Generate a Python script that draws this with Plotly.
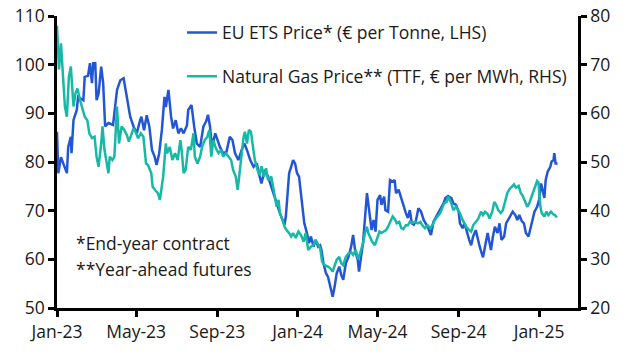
import pandas as pd
import plotly.graph_objects as go

START = "2023-01-01"

# EU ETS price (EUR per tonne, LHS): day offsets from 1 Jan 2023 and values
ets_days = [0, 2, 6, 10, 15, 17, 21, 22, 25, 30, 32, 40, 42, 47, 50, 53, 55, 58, 60, 63,
            67, 70, 73, 78, 85, 91, 96, 101, 104, 107, 111, 116, 121, 126, 128, 132, 136, 140, 144, 148,
            151, 155, 159, 163, 165, 169, 173, 176, 180, 184, 188, 192, 197, 199, 204, 208, 212, 217, 222, 226,
            229, 232, 235, 240, 244, 247, 252, 257, 262, 266, 270, 275, 280, 284, 288, 293, 298, 303, 306, 310,
            315, 320, 325, 328, 332, 335, 338, 342, 345, 347, 350, 352, 355, 358, 361, 364, 367, 370, 372, 375,
            379, 382, 385, 389, 392, 396, 399, 401, 404, 408, 411, 414, 418, 421, 424, 428, 431, 434, 438, 442,
            446, 449, 452, 456, 458, 461, 464, 466, 468, 470, 472, 475, 477, 480, 483, 486, 490, 492, 496, 498,
            502, 505, 509, 512, 514, 518, 521, 525, 529, 532, 535, 538, 541, 544, 548, 552, 556, 559, 563, 567,
            571, 574, 578, 582, 586, 589, 593, 598, 601, 605, 609, 611, 615, 618, 621, 625, 628, 631, 635, 638,
            641, 644, 646, 649, 653, 655, 658, 661, 664, 668, 671, 674, 678, 681, 684, 688, 691, 695, 698, 701,
            705, 708, 711, 715, 717, 721, 724, 728, 731, 734, 736, 739, 741, 744, 748, 750, 753, 754, 756, 759]
ets_vals = [86.2, 77.7, 81.0, 79.4, 77.7, 83.1, 85.2, 81.8, 88.6, 90.7, 93.4, 92.7, 97.5, 97.7, 100.3, 96.2, 100.3, 100.3, 92.7, 94.0,
            99.6, 96.2, 87.3, 88.0, 87.6, 94.8, 96.8, 97.2, 94.8, 93.0, 89.3, 87.3, 85.9, 88.6, 89.3, 86.5, 89.6, 87.3, 82.5, 81.1,
            79.4, 81.8, 86.6, 93.4, 91.3, 94.8, 89.3, 86.9, 88.6, 85.9, 86.9, 85.9, 87.5, 90.7, 91.7, 87.3, 83.8, 83.1, 87.3, 88.3,
            89.7, 87.3, 83.1, 85.9, 84.5, 83.1, 81.8, 82.1, 85.2, 84.5, 81.8, 80.4, 82.5, 83.8, 82.5, 80.4, 79.0, 79.7, 77.7, 75.6,
            78.4, 77.0, 74.9, 73.6, 72.2, 70.8, 69.5, 68.1, 67.1, 68.8, 73.6, 77.7, 79.0, 80.4, 79.7, 77.7, 77.0, 73.6, 70.8, 67.4,
            65.4, 63.3, 64.7, 62.6, 64.0, 62.6, 62.9, 61.9, 59.2, 57.1, 56.4, 54.4, 52.3, 54.4, 57.1, 58.5, 56.8, 55.8, 59.2, 60.5,
            62.6, 65.0, 61.9, 59.9, 57.5, 60.5, 63.3, 66.7, 70.1, 73.6, 71.5, 68.8, 66.0, 68.1, 65.7, 72.2, 73.2, 71.2, 72.9, 70.1,
            69.8, 76.3, 76.0, 76.3, 73.6, 74.3, 72.9, 71.2, 69.5, 68.5, 70.1, 67.4, 67.1, 67.8, 70.5, 69.8, 68.1, 67.4, 66.4, 65.0,
            67.8, 68.5, 69.5, 70.8, 71.5, 72.6, 73.0, 72.6, 71.5, 71.2, 69.8, 67.4, 66.4, 67.4, 65.7, 64.0, 62.9, 64.7, 66.0, 64.0,
            62.6, 61.2, 60.4, 62.6, 65.4, 64.0, 61.9, 64.7, 66.7, 65.4, 67.4, 64.0, 64.7, 67.4, 68.1, 69.1, 69.8, 69.1, 68.1, 69.1,
            67.8, 67.4, 65.4, 64.7, 66.0, 68.3, 69.8, 70.8, 72.2, 75.6, 74.3, 72.6, 76.3, 78.0, 79.0, 80.1, 80.4, 81.8, 79.7, 79.7]

# Natural gas price (TTF, EUR per MWh, RHS): day offsets from 1 Jan 2023 and values
gas_days = [0, 1, 3, 6, 10, 12, 15, 18, 21, 25, 28, 31, 35, 38, 42, 46, 49, 53, 57, 60,
            63, 67, 69, 72, 75, 78, 80, 84, 87, 89, 91, 94, 98, 102, 106, 109, 112, 116, 119, 123,
            127, 131, 135, 138, 143, 145, 149, 153, 156, 159, 161, 165, 167, 171, 175, 179, 183, 187, 189, 192,
            195, 199, 203, 207, 209, 213, 217, 220, 224, 228, 231, 234, 237, 241, 245, 249, 252, 256, 260, 264,
            267, 271, 274, 276, 279, 283, 285, 288, 291, 294, 297, 300, 304, 307, 310, 314, 317, 320, 325, 328,
            331, 333, 336, 338, 342, 345, 348, 352, 355, 358, 362, 366, 370, 374, 377, 381, 385, 389, 392, 396,
            399, 402, 406, 411, 414, 418, 421, 424, 428, 431, 434, 438, 442, 446, 449, 453, 457, 461, 464, 467,
            470, 472, 475, 478, 482, 486, 489, 492, 496, 499, 502, 506, 509, 513, 515, 519, 522, 525, 529, 532,
            535, 539, 543, 547, 551, 554, 558, 562, 566, 569, 573, 577, 581, 584, 587, 591, 593, 598, 601, 605,
            608, 611, 615, 618, 621, 625, 628, 631, 635, 639, 643, 646, 649, 653, 656, 660, 663, 666, 669, 673,
            676, 679, 683, 686, 690, 693, 696, 700, 703, 706, 710, 713, 716, 720, 722, 725, 728, 730, 733, 735,
            739, 742, 745, 749, 752, 755, 758]
gas_vals = [78.0, 74.4, 69.0, 74.4, 66.2, 61.4, 59.3, 67.5, 69.6, 61.4, 64.1, 65.1, 62.7, 61.4, 59.3, 58.6, 55.9, 54.9, 55.2, 51.1,
            49.0, 53.8, 57.3, 52.5, 49.7, 47.7, 51.1, 50.4, 51.1, 56.6, 61.4, 53.8, 57.3, 56.6, 55.5, 54.2, 55.2, 56.9, 56.2, 54.9,
            55.9, 55.2, 49.7, 49.4, 47.7, 44.9, 44.2, 43.6, 42.2, 44.9, 47.0, 53.8, 51.8, 53.1, 50.4, 51.8, 50.4, 54.5, 52.5, 47.7,
            48.4, 53.1, 52.5, 55.9, 51.1, 49.7, 51.1, 53.1, 54.5, 55.2, 56.6, 51.1, 54.5, 52.8, 51.8, 52.5, 51.1, 51.8, 51.1, 50.4,
            48.4, 47.0, 44.3, 46.3, 50.4, 55.2, 56.2, 53.8, 56.6, 56.2, 53.1, 50.4, 48.4, 47.3, 49.1, 47.0, 48.7, 46.3, 47.0, 44.6,
            42.9, 40.8, 42.2, 39.5, 38.1, 36.7, 36.0, 35.4, 34.7, 35.4, 34.4, 35.7, 35.0, 33.6, 35.4, 31.9, 32.6, 32.9, 34.0, 32.9,
            32.3, 29.5, 28.8, 28.5, 28.2, 27.5, 28.5, 29.9, 30.5, 29.2, 28.8, 30.5, 31.2, 31.5, 30.9, 31.9, 30.0, 31.9, 33.3, 35.4,
            36.7, 35.4, 34.3, 33.6, 32.9, 34.7, 35.7, 35.4, 35.7, 36.0, 36.7, 38.1, 38.8, 38.1, 37.4, 37.7, 36.4, 36.2, 37.0, 37.0,
            37.7, 37.5, 37.7, 37.4, 37.7, 37.0, 36.4, 37.0, 36.4, 37.0, 38.1, 38.8, 39.5, 40.5, 41.5, 41.8, 42.9, 41.5, 40.1, 40.8,
            40.1, 39.5, 38.1, 37.4, 36.6, 36.0, 35.7, 37.0, 37.7, 38.4, 39.8, 39.1, 39.8, 39.3, 38.4, 39.8, 41.8, 41.2, 40.1, 39.5,
            40.1, 41.8, 43.7, 44.4, 45.1, 45.4, 44.7, 45.1, 43.7, 43.1, 41.8, 40.8, 41.5, 43.1, 44.1, 45.1, 46.1, 45.8, 40.8, 39.5,
            38.8, 39.8, 39.1, 39.8, 39.3, 39.1, 38.6]

tick_dates = ["2023-01-01", "2023-05-01", "2023-09-01", "2024-01-01", "2024-05-01", "2024-09-01", "2025-01-01"]
x_range = ["2023-01-01", "2025-03-01"]

ets_names = "EU ETS Price* (€ per Tonne, LHS)"
gas_names = "Natural Gas Price** (TTF, € per MWh, RHS)"
notes = ["*End-year contract", "**Year-ahead futures"]

start = pd.Timestamp(START)
ets_x = start + pd.to_timedelta(ets_days, unit="D")
gas_x = start + pd.to_timedelta(gas_days, unit="D")

BLUE = "#2256d4"
TEAL = "#17b8a6"
FONT = "Open Sans"
TXT = "#1a1a1a"
FS = 17.5

fig = go.Figure()
fig.add_trace(go.Scatter(x=ets_x, y=ets_vals, mode="lines", name=ets_names,
                         line=dict(color=BLUE, width=2.5), yaxis="y", legendgroup="a"))
fig.add_trace(go.Scatter(x=gas_x, y=gas_vals, mode="lines", name=gas_names,
                         line=dict(color=TEAL, width=2.5), yaxis="y2", legendgroup="b"))

axis_common = dict(showgrid=False, zeroline=False, showline=True, linecolor="black", linewidth=2.5,
                   ticks="outside", ticklen=6, tickwidth=2.5, tickcolor="black", automargin=False,
                   ticklabeloverflow="allow",
                   tickfont=dict(family=FONT, size=FS, color=TXT))

fig.update_layout(
    template="none",
    width=628, height=355,
    margin=dict(l=57, r=50, t=16, b=47, pad=0),
    paper_bgcolor="white", plot_bgcolor="white",
    font=dict(family=FONT, size=FS, color=TXT),
    showlegend=True,
    legend=dict(x=0.24, y=1.005, xanchor="left", yanchor="top", bgcolor="rgba(0,0,0,0)",
                font=dict(family=FONT, size=FS, color=TXT), tracegroupgap=18,
                traceorder="grouped", itemwidth=30),
    xaxis=dict(type="date", range=x_range, tickvals=tick_dates, tickformat="%b-%y", **axis_common),
    yaxis=dict(range=[50, 110], dtick=10, **axis_common),
    yaxis2=dict(range=[20, 80], dtick=10, overlaying="y", side="right", **axis_common),
)

for i, t in enumerate(notes):
    fig.add_annotation(text=t, xref="paper", yref="paper", x=0.032, y=0.222 - i * 0.089,
                       xanchor="left", yanchor="middle", showarrow=False,
                       font=dict(family=FONT, size=FS, color=TXT))

fig.write_html("out.html",
               config={"displayModeBar": False},
               post_script="document.body.style.margin='0';document.body.style.overflow='hidden';")
